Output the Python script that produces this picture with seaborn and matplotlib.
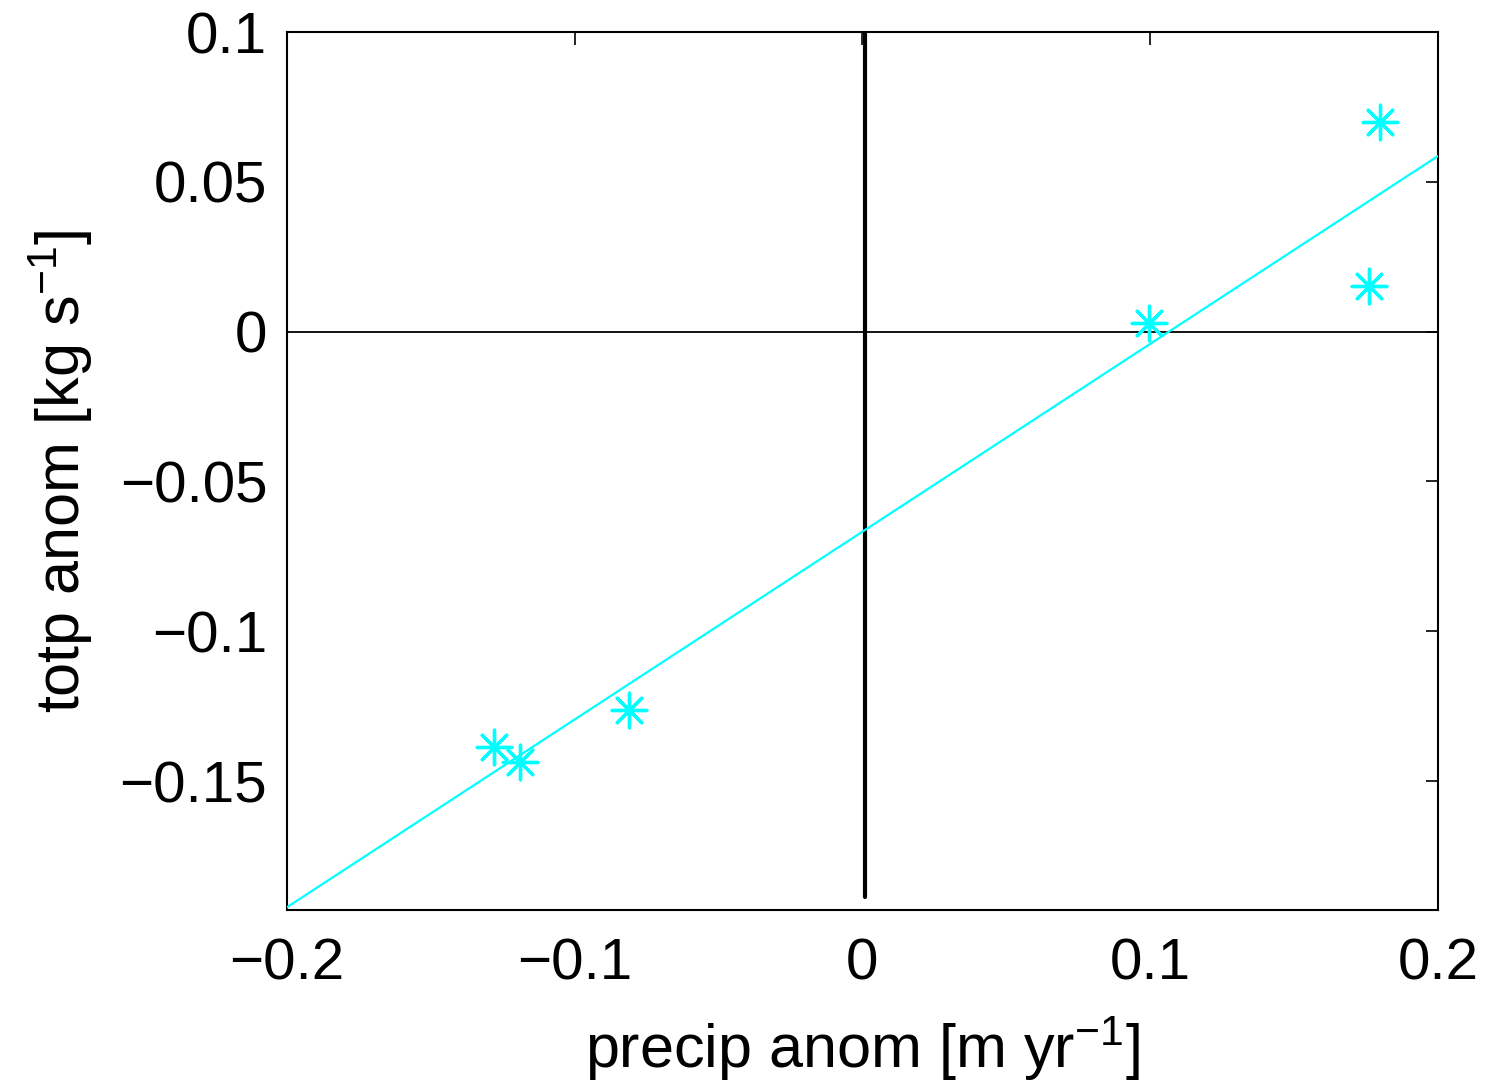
import numpy as np
import pandas as pd
import seaborn as sns
import matplotlib
matplotlib.use("Agg")
import matplotlib.pyplot as plt

precip_anom = [-0.128, -0.119, -0.081, 0.0995, 0.176, 0.180]
totp_anom = [-0.1387, -0.1437, -0.1264, 0.0028, 0.0154, 0.0700]
x_ticks = [-0.2, -0.1, 0, 0.1, 0.2]
y_ticks = [-0.15, -0.1, -0.05, 0, 0.05, 0.1]
x_tick_labels = ["\u22120.2", "\u22120.1", "0", "0.1", "0.2"]
y_tick_labels = ["\u22120.15", "\u22120.1", "\u22120.05", "0", "0.05", "0.1"]

df = pd.DataFrame({"precip": precip_anom, "totp": totp_anom})

sns.set_theme(style="white")
plt.rcParams["font.family"] = ["Liberation Sans", "DejaVu Sans"]
plt.rcParams["mathtext.fontset"] = "custom"
plt.rcParams["mathtext.rm"] = "Liberation Sans"
plt.rcParams["mathtext.it"] = "Liberation Sans"

fig = plt.figure(figsize=(14.86, 10.85), dpi=100)
ax = fig.add_axes([0.193, 0.1613, 0.7747, 0.8092])
ax.set_xlim(-0.2, 0.2)
ax.set_ylim(-0.193, 0.1)

cyan = "#00FFFF"
sns.regplot(data=df, x="precip", y="totp", ax=ax, ci=None, truncate=False,
            marker=(8, 2, 0), color=cyan,
            scatter_kws={"s": 620, "linewidths": 2.4, "alpha": 1, "zorder": 4},
            line_kws={"linewidth": 1.6, "zorder": 3})

ax.axhline(0, color="black", linewidth=1.3, zorder=2)
ax.plot([0.001, 0.001], [-0.1885, 0.1], color="black", linewidth=3, zorder=2)

ax.set_xlim(-0.2, 0.2)
ax.set_ylim(-0.193, 0.1)
ax.set_xticks(x_ticks)
ax.set_xticklabels(x_tick_labels)
ax.set_yticks(y_ticks)
ax.set_yticklabels(y_tick_labels)
ax.tick_params(direction="in", length=9, width=1.2, top=True, right=True,
               labelsize=42, colors="black")
ax.tick_params(axis="x", pad=20)
ax.tick_params(axis="y", pad=14)
for s in ax.spines.values():
    s.set_color("black")
    s.set_linewidth(1.5)

ax.set_xlabel(r"precip anom [m yr$^{\mathregular{-1}}$]", fontsize=44,
              labelpad=16, color="black")
ax.set_ylabel(r"totp anom [kg s$^{\mathregular{-1}}$]", fontsize=44,
              labelpad=18, color="black")

fig.savefig("out.png", dpi=100)
